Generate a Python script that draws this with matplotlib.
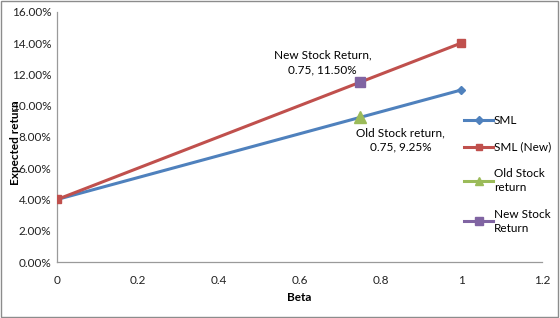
import matplotlib
matplotlib.use("Agg")
import matplotlib.pyplot as plt
from matplotlib.ticker import FuncFormatter
from matplotlib.patches import Rectangle

plt.rcParams['font.family'] = ['Lato', 'DejaVu Sans']

sml_beta = [0, 1]
sml_ret = [4.0, 11.0]
sml_new_beta = [0, 1]
sml_new_ret = [4.0, 14.0]
old_beta = [0.75]
old_ret = [9.25]
new_beta = [0.75]
new_ret = [11.5]

blue = '#4F81BD'
red = '#C0504D'
green = '#9BBB59'
purple = '#8064A2'
FS = 8.5

fig = plt.figure(figsize=(5.6, 3.18), dpi=100)
ax = fig.add_axes([0.102, 0.176, 0.866, 0.787])
fig.patches.append(Rectangle((0.002, 0.003), 0.995, 0.993, transform=fig.transFigure,
                             fill=False, edgecolor='#8c8c8c', lw=1))

ax.plot(sml_beta, sml_ret, color=blue, lw=2.2, marker='D', ms=4.5, label='SML', zorder=3)
ax.plot(sml_new_beta, sml_new_ret, color=red, lw=2.2, marker='s', ms=6, label='SML (New)', zorder=4)
ax.plot(old_beta, old_ret, color=green, lw=2.2, marker='^', ms=8, label='Old Stock\nreturn', zorder=5)
ax.plot(new_beta, new_ret, color=purple, lw=2.2, marker='s', ms=6.5, label='New Stock\nReturn', zorder=5)

ax.annotate('New Stock Return,\n0.75, 11.50%', xy=(new_beta[0], new_ret[0]),
            xytext=(-27, 5), textcoords='offset points', ha='center', va='bottom',
            fontsize=FS, linespacing=1.4)
ax.annotate('Old Stock return,\n0.75, 9.25%', xy=(old_beta[0], old_ret[0]),
            xytext=(29, -7), textcoords='offset points', ha='center', va='top',
            fontsize=FS, linespacing=1.4)

ax.set_xlim(0, 1.2)
ax.set_ylim(0, 16)
ax.set_xticks([0, 0.2, 0.4, 0.6, 0.8, 1, 1.2])
ax.set_xticklabels(['0', '0.2', '0.4', '0.6', '0.8', '1', '1.2'])
ax.set_yticks(range(0, 17, 2))
ax.yaxis.set_major_formatter(FuncFormatter(lambda v, p: f'{v:.2f}%'))
ax.tick_params(length=0, labelsize=FS, colors='#222222')
ax.tick_params(axis='x', pad=9)
ax.tick_params(axis='y', pad=4)
for s in ['top', 'right']:
    ax.spines[s].set_visible(False)
for s in ['left', 'bottom']:
    ax.spines[s].set_color('#9a9a9a')
    ax.spines[s].set_linewidth(0.9)

ax.set_xlabel('Beta', fontsize=FS, fontweight='bold', labelpad=5)
fig.text(0.027, 0.55, 'Expected return', rotation=90, fontsize=FS, fontweight='bold',
         ha='center', va='center')

leg = ax.legend(loc='upper left', bbox_to_anchor=(0.83, 0.605), frameon=False, fontsize=FS,
                handlelength=2.4, handletextpad=0.1, labelspacing=1.3, borderaxespad=0,
                markerscale=0.8)
for t in leg.get_texts():
    t.set_linespacing(1.35)

fig.savefig('out.png', dpi=100)
